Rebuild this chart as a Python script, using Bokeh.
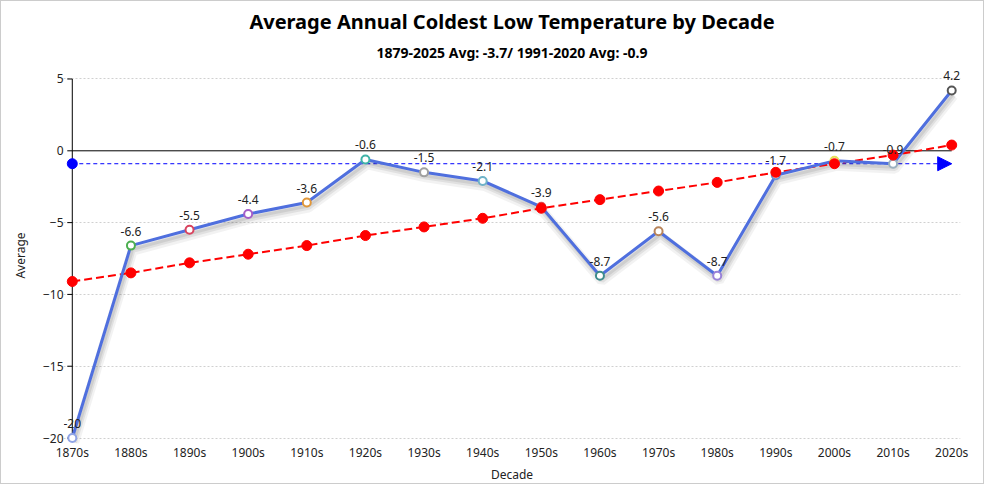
import math
from bokeh.plotting import figure
from bokeh.models import Range1d, Title, Arrow, NormalHead, ColumnDataSource, LabelSet, FixedTicker
from bokeh.embed import file_html
from bokeh.resources import INLINE
from bokeh.core.properties import value

decades = ["1870s", "1880s", "1890s", "1900s", "1910s", "1920s", "1930s", "1940s",
           "1950s", "1960s", "1970s", "1980s", "1990s", "2000s", "2010s", "2020s"]
averages = [-20, -6.6, -5.5, -4.4, -3.6, -0.6, -1.5, -2.1, -3.9, -8.7, -5.6, -8.7, -1.7, -0.7, -0.9, 4.2]
trend = [-9.1, -8.5, -7.8, -7.2, -6.6, -5.9, -5.3, -4.7, -4.0, -3.4, -2.8, -2.2, -1.5, -0.9, -0.3, 0.4]
marker_colors = ["#8fa3e6", "#4caf50", "#d9435e", "#a45ec8", "#e0973a", "#3fb3a8", "#a0a0a0", "#6fb3c8",
                 "#e05050", "#3d8c8c", "#b8845a", "#9a82d8", "#6f8fd0", "#e6df5a", "#9ab0c0", "#555555"]
avg_1991_2020 = -0.9
y_ticks = [5, 0, -5, -10, -15, -20]

FONT = "Noto Sans"
xs = list(range(len(decades)))

p = figure(width=984, height=484, output_backend="svg", toolbar_location=None,
           x_range=Range1d(-0.15, 15.15), y_range=Range1d(-20.38, 5.8),
           min_border_left=62, min_border_right=25, min_border_top=66, min_border_bottom=41)
p.outline_line_color = None
p.xgrid.grid_line_color = None
p.ygrid.ticker = FixedTicker(ticks=[t for t in y_ticks if t != 0])
p.ygrid.grid_line_color = "#d0d0d0"
p.ygrid.grid_line_dash = "2 2"

# titles (first added sits nearest the plot)
p.add_layout(Title(text="1879-2025 Avg: -3.7/ 1991-2020 Avg: -0.9", align="center",
                   text_font=FONT, text_font_style="bold", text_font_size="14px",
                   text_color="black", standoff=12), "above")
p.add_layout(Title(text="Average Annual Coldest Low Temperature by Decade", align="center",
                   text_font=FONT, text_font_style="bold", text_font_size="20px",
                   text_color="black", standoff=0), "above")

# y axis: labels from the axis, line and ticks drawn at x = first decade
p.yaxis.ticker = FixedTicker(ticks=y_ticks)
p.yaxis.axis_line_color = None
p.yaxis.major_tick_line_color = None
p.yaxis.minor_tick_line_color = None
p.yaxis.major_tick_out = 0
p.yaxis.major_tick_in = 0
p.yaxis.major_label_standoff = 0
p.yaxis.major_label_text_font = FONT
p.yaxis.major_label_text_font_size = "12px"
p.yaxis.major_label_text_color = "#222222"
p.yaxis.axis_label = "Average"
p.yaxis.axis_label_text_font = FONT
p.yaxis.axis_label_text_font_size = "12px"
p.yaxis.axis_label_text_font_style = "normal"
p.yaxis.axis_label_text_color = "#222222"
p.yaxis.axis_label_standoff = 11

p.segment(x0=[xs[0]], y0=[min(y_ticks)], x1=[xs[0]], y1=[max(y_ticks)], line_color="black", line_width=1)
p.ray(x=[xs[0]] * len(y_ticks), y=y_ticks, length=5, length_units="screen", angle=math.pi,
      line_color="black", line_width=1)

p.xaxis.ticker = FixedTicker(ticks=xs)
p.xaxis.major_label_overrides = {i: d for i, d in enumerate(decades)}
p.xaxis.axis_line_color = None
p.xaxis.major_tick_line_color = None
p.xaxis.minor_tick_line_color = None
p.xaxis.major_tick_out = 0
p.xaxis.major_label_standoff = 0
p.xaxis.major_label_text_font = FONT
p.xaxis.major_label_text_font_size = "12px"
p.xaxis.major_label_text_color = "#222222"
p.xaxis.axis_label = "Decade"
p.xaxis.axis_label_text_font = FONT
p.xaxis.axis_label_text_font_size = "12px"
p.xaxis.axis_label_text_font_style = "normal"
p.xaxis.axis_label_text_color = "#222222"
p.xaxis.axis_label_standoff = 2

# zero line
p.line([xs[0], xs[-1]], [0, 0], line_color="black", line_width=1)

# 1991-2020 average mark line
p.line([xs[0], xs[-1]], [avg_1991_2020, avg_1991_2020], line_color="blue", line_width=1, line_dash="4 3")
p.scatter([xs[0]], [avg_1991_2020], size=10, fill_color="blue", line_color="blue")
p.add_layout(Arrow(end=NormalHead(size=14, fill_color="blue", line_color="blue"),
                   x_start=xs[-2] + 0.7, y_start=avg_1991_2020, x_end=xs[-1], y_end=avg_1991_2020,
                   line_color=None, line_width=0))

# shadow of the main line
for w, a, d in [(10, 0.05, 0.35), (6, 0.07, 0.3), (3, 0.08, 0.25)]:
    p.line([x + 0.03 for x in xs], [v - d for v in averages], line_color="black", line_alpha=a, line_width=w)

# trend line
p.line(xs, trend, line_color="red", line_width=2, line_dash="8 4")

src = ColumnDataSource(dict(x=xs, y=averages, c=marker_colors, t=[f"{v:g}" for v in averages]))
p.line("x", "y", source=src, line_color="#4f6fde", line_width=3)
p.scatter("x", "y", source=src, size=8, fill_color="white", line_color="c", line_width=2)

# trend dots
p.scatter(xs, trend, size=10, fill_color="red", line_color="red")

p.add_layout(LabelSet(x="x", y="y", text="t", source=src, y_offset=10, text_align="center",
                      text_baseline="bottom", text_font=value(FONT), text_font_size="12px",
                      text_color="#222222"))

p.styles = {"border": "1px solid #cccccc"}

open("out.html", "w").write(file_html(p, INLINE))
